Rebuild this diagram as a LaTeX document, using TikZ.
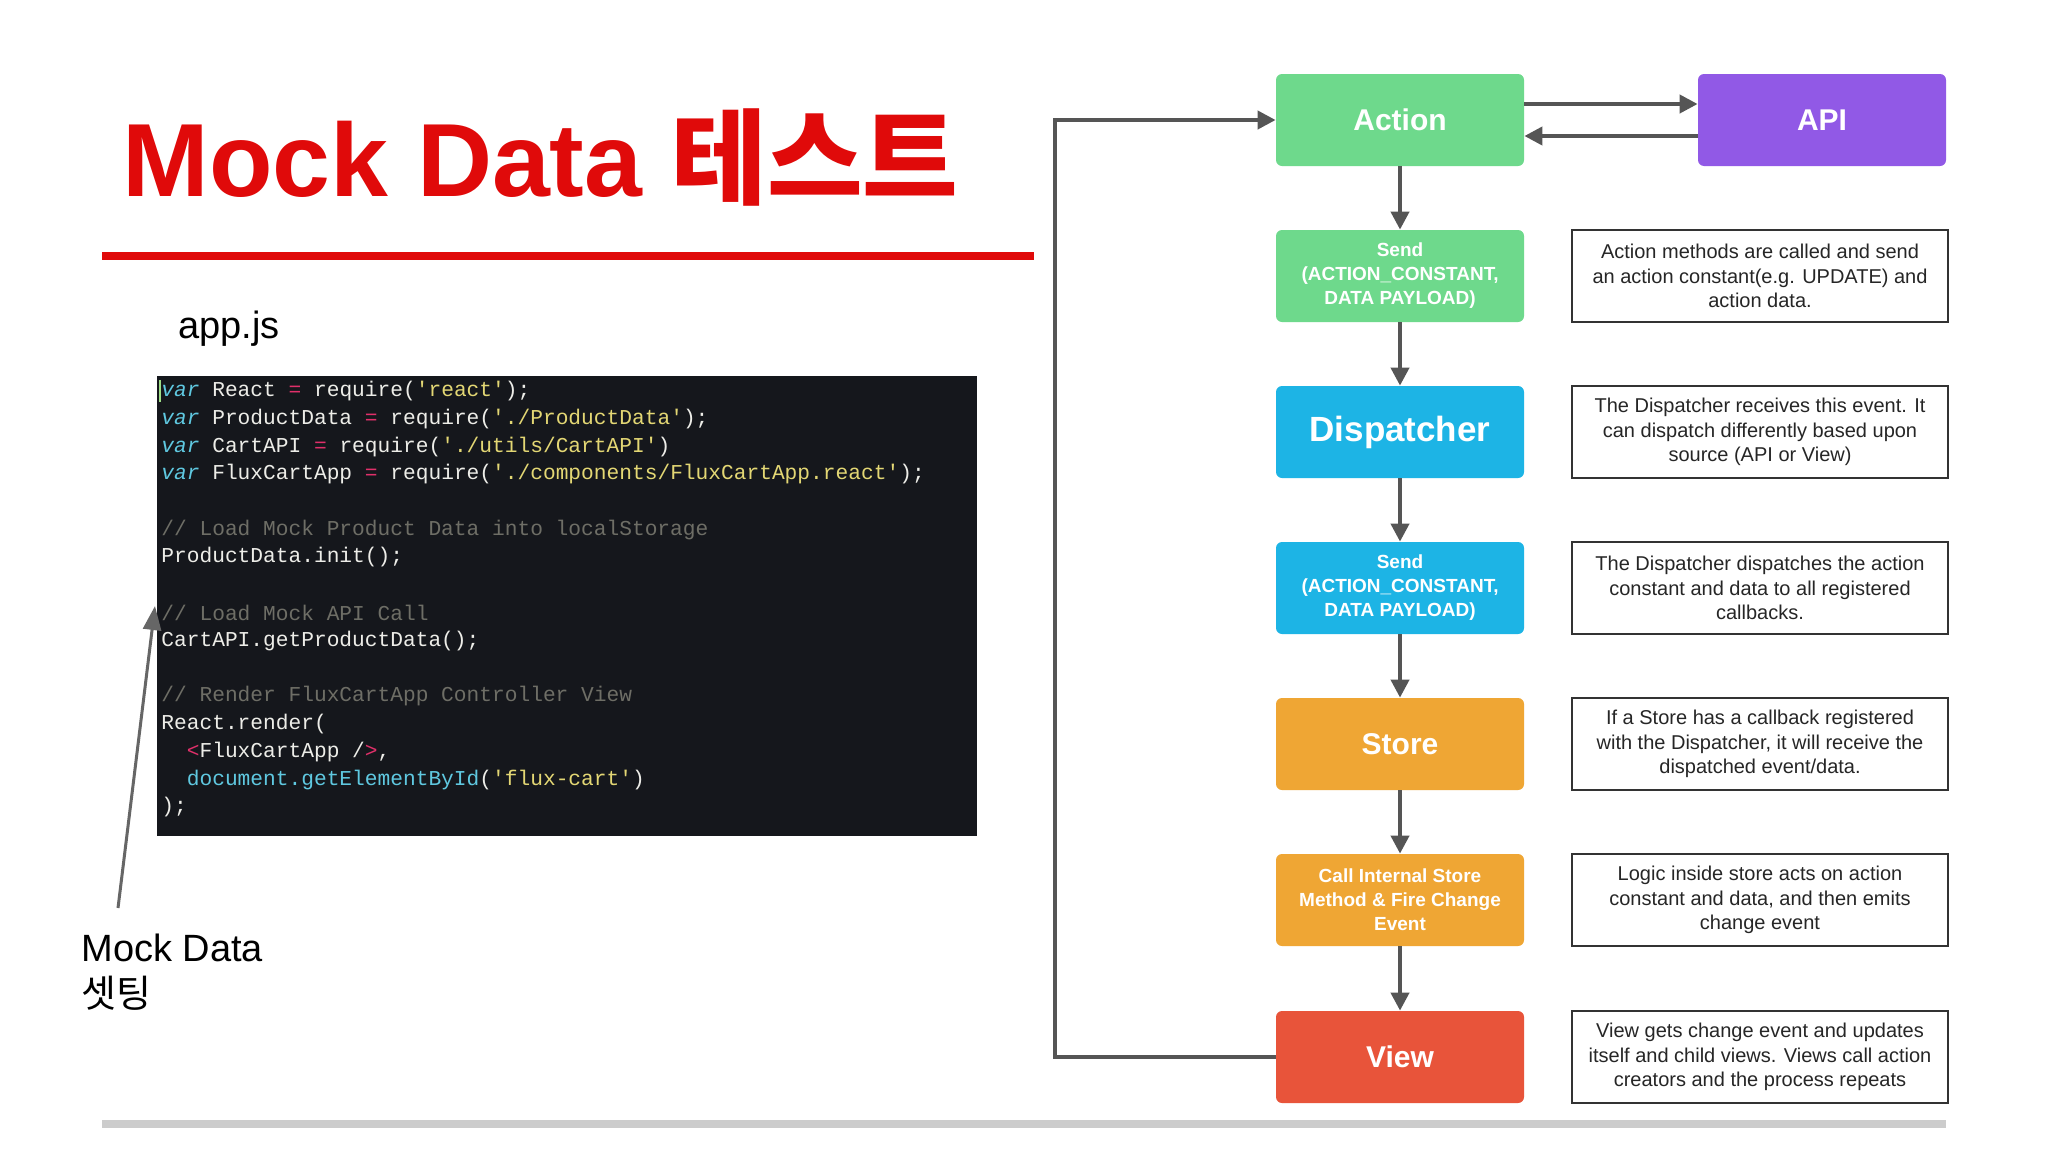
\documentclass[tikz,border=0pt]{standalone}
\usepackage{fontspec}
\setmainfont{Liberation Sans}
\setsansfont{Liberation Sans}
\setmonofont{Liberation Mono}
\newfontfamily\kr{Noto Sans CJK KR}
\usetikzlibrary{arrows.meta}
\definecolor{titred}{HTML}{E00A0A}
\definecolor{cgreen}{HTML}{6ED98C}
\definecolor{cblue}{HTML}{1DB4E5}
\definecolor{corange}{HTML}{EFA634}
\definecolor{cred}{HTML}{E8543A}
\definecolor{cpurple}{HTML}{9159E6}
\definecolor{codebg}{HTML}{15171C}
\definecolor{ckw}{HTML}{5FC8E0}
\definecolor{cop}{HTML}{E0306A}
\definecolor{cstr}{HTML}{E3D774}
\definecolor{ccom}{HTML}{6E6E66}
\definecolor{ctxt}{HTML}{EDEDE8}
\definecolor{arrg}{HTML}{555555}
\newcommand{\cK}[1]{\textcolor{ckw}{\itshape #1}}
\newcommand{\cB}[1]{\textcolor{ckw}{#1}}
\newcommand{\cO}[1]{\textcolor{cop}{#1}}
\newcommand{\cS}[1]{\textcolor{cstr}{#1}}
\newcommand{\cC}[1]{\textcolor{ccom}{#1}}
\tikzset{
  flow/.style={rounded corners=3pt, minimum width=124pt, minimum height=46pt, text=white, font=\bfseries, align=center, inner sep=0pt},
  big/.style={font=\bfseries\fontsize{15}{18}\selectfont},
  small/.style={font=\bfseries\fontsize{9.5}{12}\selectfont},
  desc/.style={draw=black!80, line width=0.8pt, minimum width=188pt, minimum height=46pt, align=center, font=\fontsize{10}{12.2}\selectfont, text=black!85, inner sep=1pt},
  arr/.style={draw=arrg, line width=2pt, -{Triangle[length=9pt,width=9pt]}},
  code/.style={anchor=west, inner sep=0pt, text=ctxt, font=\ttfamily\fontsize{10.6}{12}\selectfont},
}
\begin{document}
\begin{tikzpicture}[x=0.5pt,y=-0.5pt]
\useasboundingbox (0,0) rectangle (2048,1152);
\fill[white] (0,0) rectangle (2048,1152);
% title
\node[anchor=base west, inner sep=0pt, text=titred, font=\bfseries\fontsize{52}{60}\selectfont] (title) at (122,196) {Mock Data {\kr\bfseries 테스트}};
\draw[titred, line width=4pt] (102,256) -- (1034,256);
\draw[black!20, line width=4pt] (102,1124) -- (1946,1124);
\node[anchor=base west, inner sep=0pt, font=\fontsize{19}{22}\selectfont] (appjs) at (178,338) {app.js};
% code
\node[fill=codebg, minimum width=410pt, minimum height=230pt, anchor=north west, inner sep=0pt] (codebox) at (157,376) {};
\foreach \y/\t in {
 391/{\cK{var} React \cO{=} require(\cS{'react'});},
 419/{\cK{var} ProductData \cO{=} require(\cS{'./ProductData'});},
 447/{\cK{var} CartAPI \cO{=} require(\cS{'./utils/CartAPI'})},
 474/{\cK{var} FluxCartApp \cO{=} require(\cS{'./components/FluxCartApp.react'});},
 530/{\cC{// Load Mock Product Data into localStorage}},
 557/{ProductData.init();},
 613/{\cC{// Load Mock API Call}},
 641/{CartAPI.getProductData();},
 696/{\cC{// Render FluxCartApp Controller View}},
 724/{React.render(},
 752/{\phantom{xx}\cO{<}FluxCartApp /\cO{>},},
 780/{\phantom{xx}\cB{document.getElementById}(\cS{'flux-cart'})},
 807/{);}}
  \node[code] at (161,\y) {\t};
\draw[ckw!60!yellow, line width=0.8pt] (160,380) -- (160,402);
% mock data label
\node[anchor=north west, inner sep=0pt, align=left, font=\fontsize{19}{23}\selectfont] (mock) at (81,934) {Mock Data\\{\kr 셋팅}};
\coordinate (mockarr) at (118,908);
\coordinate (codept) at (155,606);
\draw[draw=black!60, line width=1.5pt, -{Triangle[length=12pt,width=9pt]}] (mockarr) -- (codept);
% flow
\node[flow, big, fill=cgreen] (action) at (1400,120) {Action};
\node[flow, small, fill=cgreen] (send1) at (1400,276) {Send\\(ACTION\_CONSTANT,\\DATA PAYLOAD)};
\node[flow, fill=cblue, font=\bfseries\fontsize{17.5}{20}\selectfont] (disp) at (1400,432) {Dispatcher};
\node[flow, small, fill=cblue] (send2) at (1400,588) {Send\\(ACTION\_CONSTANT,\\DATA PAYLOAD)};
\node[flow, big, fill=corange] (store) at (1400,744) {Store};
\node[flow, small, fill=corange] (call) at (1400,900) {Call Internal Store\\Method \& Fire Change\\Event};
\node[flow, big, fill=cred] (view) at (1400,1057) {View};
\node[flow, big, fill=cpurple] (api) at (1822,120) {API};
\foreach \a/\b in {action/send1, send1/disp, disp/send2, send2/store, store/call, call/view}
  \draw[arr] (\a) -- (\b);
\draw[arr] ([yshift=8pt]action.east) -- ([yshift=8pt]api.west);
\draw[arr] ([yshift=-8pt]api.west) -- ([yshift=-8pt]action.east);
\coordinate (lb) at (1055,1057);
\coordinate (lt) at (1055,120);
\draw[arr] (view.west) -- (lb) -- (lt) -- (action.west);
% descriptions
\node[desc] (d1) at (1760,276) {Action methods are called and send\\an action constant(e.g. UPDATE) and\\action data.};
\node[desc] (d2) at (1760,432) {The Dispatcher receives this event. It\\can dispatch differently based upon\\source (API or View)};
\node[desc] (d3) at (1760,588) {The Dispatcher dispatches the action\\constant and data to all registered\\callbacks.};
\node[desc] (d4) at (1760,744) {If a Store has a callback registered\\with the Dispatcher, it will receive the\\dispatched event/data.};
\node[desc] (d5) at (1760,900) {Logic inside store acts on action\\constant and data, and then emits\\change event};
\node[desc] (d6) at (1760,1057) {View gets change event and updates\\itself and child views. Views call action\\creators and the process repeats};
\end{tikzpicture}
\end{document}
